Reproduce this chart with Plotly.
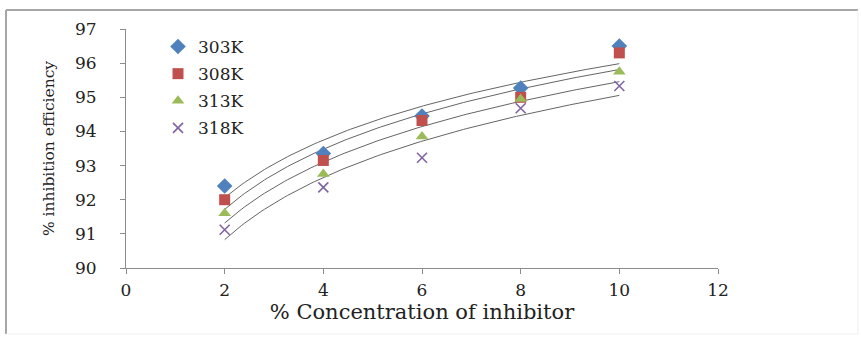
import numpy as np
import plotly.graph_objects as go

# Inhibitor concentration (%) and inhibition efficiency (%) at each temperature
concentration = [2, 4, 6, 8, 10]
ie_303K = [92.4, 93.35, 94.45, 95.27, 96.5]
ie_308K = [92.0, 93.15, 94.32, 95.0, 96.3]
ie_313K = [91.6, 92.75, 93.85, 94.95, 95.75]
ie_318K = [91.12, 92.36, 93.23, 94.68, 95.33]

x_ticks = [0, 2, 4, 6, 8, 10, 12]
y_ticks = [90, 91, 92, 93, 94, 95, 96, 97]

series = [
    ("303K", ie_303K, dict(symbol="diamond", color="#4F81BD", size=12)),
    ("308K", ie_308K, dict(symbol="square", color="#C0504D", size=11)),
    ("313K", ie_313K, dict(symbol="triangle-up", color="#9BBB59", size=11)),
    ("318K", ie_318K, dict(symbol="x-thin", color="#8064A2", size=10,
                           line=dict(color="#8064A2", width=1.6))),
]

SERIF = "DejaVu Serif"

fig = go.Figure()

# Logarithmic trend line for each temperature (least squares on ln x)
x_fit = np.linspace(min(concentration), max(concentration), 120)
for name, values, _ in series:
    a, b = np.polyfit(np.log(concentration), values, 1)
    fig.add_trace(go.Scatter(
        x=x_fit, y=a * np.log(x_fit) + b, mode="lines",
        line=dict(color="#656565", width=1), showlegend=False, hoverinfo="skip",
    ))

for name, values, marker in series:
    fig.add_trace(go.Scatter(
        x=concentration, y=values, mode="markers", name=name,
        marker=marker, legendgroup=name,
    ))

L, R, T, B = 126, 143, 29, 72
W, H = 861, 340
pw, ph = W - L - R, H - T - B

axis_common = dict(
    showgrid=False, zeroline=False, showline=True, linecolor="#8c8c8c",
    linewidth=1, ticks="outside", tickcolor="#8c8c8c", ticklen=5,
    tickfont=dict(family=SERIF, size=17, color="#222"),
)

fig.update_xaxes(
    range=[0, 12], tickvals=x_ticks, **axis_common,
    title=dict(text="% Concentration of inhibitor",
               font=dict(family=SERIF, size=21, color="#222"), standoff=4),
    ticklabelstandoff=2,
)
fig.update_yaxes(
    range=[90, 97], tickvals=y_ticks, **axis_common,
    title=dict(text="% inhibition efficiency",
               font=dict(family=SERIF, size=15.5, color="#222"), standoff=16),
    ticklabelstandoff=20,
)

# Chart frame: darker top/left edge, faint bottom/right edge
def px_x(p):
    return (p - L) / pw

def px_y(p):
    return (H - B - p) / ph

fx0, fx1, fy0, fy1 = px_x(6), px_x(858), px_y(334), px_y(10)
fig.add_shape(type="line", xref="paper", yref="paper", x0=fx0, x1=fx1, y0=fy1, y1=fy1,
              line=dict(color="#a6a6a6", width=2))
fig.add_shape(type="line", xref="paper", yref="paper", x0=fx0, x1=fx0, y0=fy0, y1=fy1,
              line=dict(color="#a6a6a6", width=2))
fig.add_shape(type="line", xref="paper", yref="paper", x0=fx0, x1=fx1, y0=fy0, y1=fy0,
              line=dict(color="#efefef", width=1))
fig.add_shape(type="line", xref="paper", yref="paper", x0=fx1, x1=fx1, y0=fy0, y1=fy1,
              line=dict(color="#efefef", width=1))

fig.update_layout(
    width=W, height=H,
    margin=dict(l=L, r=R, t=T, b=B),
    paper_bgcolor="white", plot_bgcolor="white",
    showlegend=True,
    legend=dict(
        x=px_x(158), y=px_y(29), xanchor="left", yanchor="top",
        bgcolor="rgba(0,0,0,0)", borderwidth=0,
        font=dict(family=SERIF, size=17, color="#222"),
        tracegroupgap=2, itemwidth=30,
    ),
)

fig.write_html("out.html")
